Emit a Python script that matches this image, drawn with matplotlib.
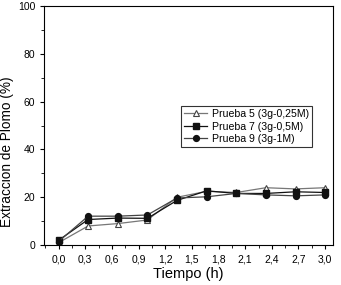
import numpy as np
import matplotlib
matplotlib.use("Agg")
import matplotlib.pyplot as plt
from matplotlib.ticker import MultipleLocator, FormatStrFormatter

plt.rcParams["font.family"] = ["Liberation Sans", "DejaVu Sans"]

# --- Données ---
tiempo = [0.0, 0.333, 0.667, 1.0, 1.333, 1.667, 2.0, 2.333, 2.667, 3.0]
prueba5 = [1.0, 8.0, 9.0, 10.5, 20.0, 22.5, 22.0, 24.0, 23.5, 24.0]
prueba7 = [2.0, 10.7, 11.3, 11.2, 18.7, 22.7, 21.6, 21.6, 22.3, 22.0]
prueba9 = [1.5, 12.1, 12.1, 12.6, 19.7, 20.2, 21.6, 21.0, 20.6, 21.0]
etiquetas = ["Prueba 5 (3g-0,25M)", "Prueba 7 (3g-0,5M)", "Prueba 9 (3g-1M)"]

fig, ax = plt.subplots(figsize=(3.41, 2.85), dpi=100)
fig.subplots_adjust(left=0.13, right=0.977, top=0.979, bottom=0.14)

ax.plot(tiempo, prueba5, color="#777777", lw=0.9, marker="^", ms=5,
        mfc="white", mec="#444444", mew=0.8, label=etiquetas[0])
ax.plot(tiempo, prueba7, color="#111111", lw=0.9, marker="s", ms=4.2,
        mfc="#111111", mec="#111111", label=etiquetas[1])
ax.plot(tiempo, prueba9, color="#444444", lw=0.9, marker="o", ms=4.2,
        mfc="#111111", mec="#111111", label=etiquetas[2])

ax.set_xlim(-0.16, 3.09)
ax.set_ylim(0, 100)
ax.xaxis.set_major_locator(MultipleLocator(0.3))
ax.xaxis.set_minor_locator(MultipleLocator(0.15))
ax.xaxis.set_major_formatter(FormatStrFormatter("%.1f"))
ax.yaxis.set_major_locator(MultipleLocator(20))
ax.yaxis.set_minor_locator(MultipleLocator(10))
ax.set_xticklabels([f"{v:.1f}".replace(".", ",") for v in ax.get_xticks()])

ax.tick_params(which="major", length=3, width=0.8, labelsize=7.5)
ax.tick_params(which="minor", length=2, width=0.6)
for s in ax.spines.values():
    s.set_linewidth(0.8)

ax.set_xlabel("Tiempo (h)", fontsize=10.5, labelpad=2)
ax.set_ylabel("Extraccion de Plomo (%)", fontsize=9.8)
ax.yaxis.set_label_coords(-0.105, 0.39)

leg = ax.legend(loc="upper left", bbox_to_anchor=(0.455, 0.605), fontsize=7.6,
                frameon=True, fancybox=False, edgecolor="black",
                handlelength=2.2, handletextpad=0.4, borderpad=0.3,
                labelspacing=0.25)
leg.get_frame().set_linewidth(0.8)

fig.savefig("out.png", dpi=100)
